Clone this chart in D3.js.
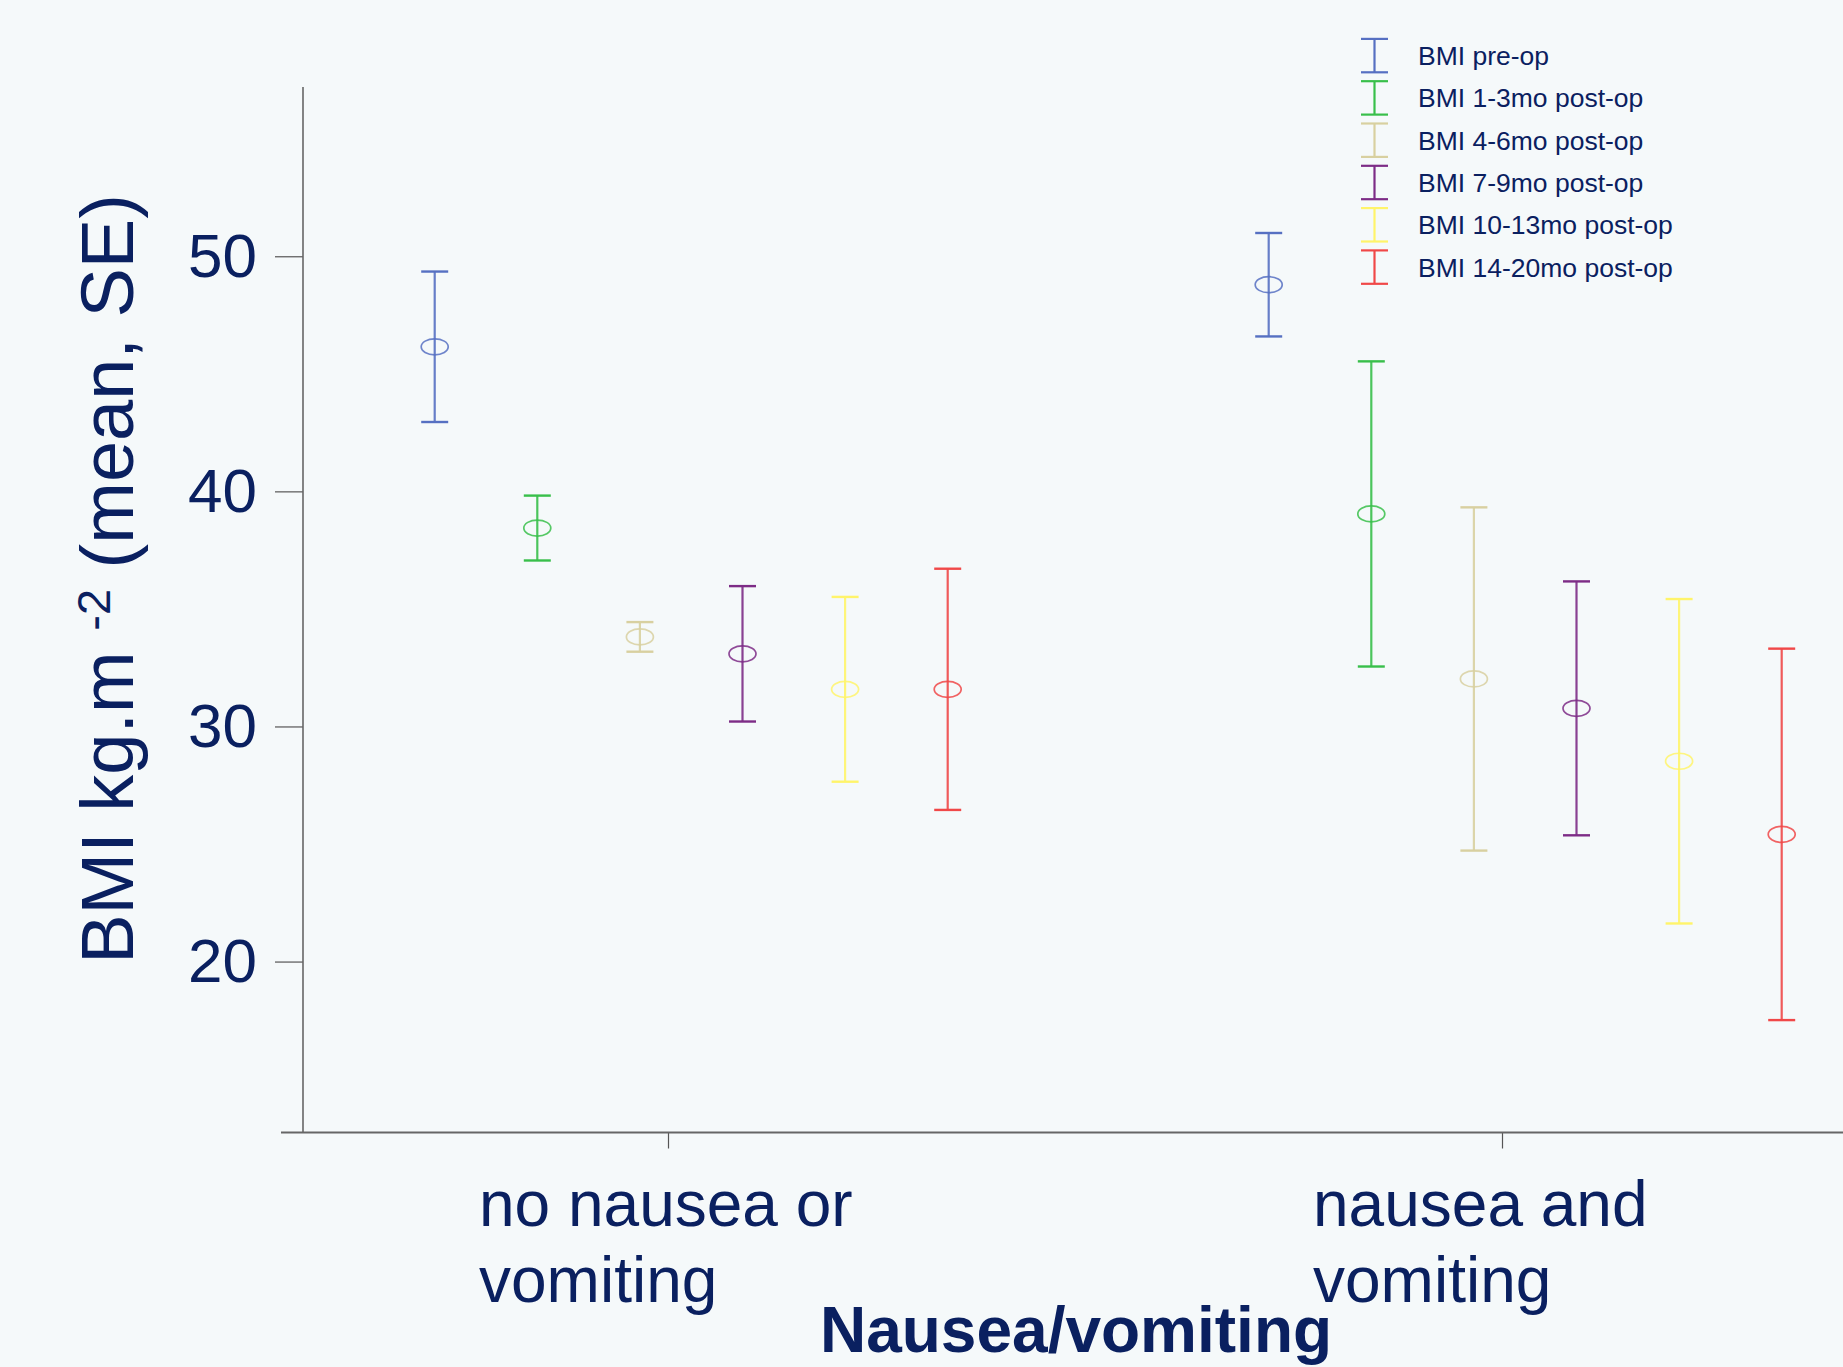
<!DOCTYPE html>
<html>
<head>
<meta charset="utf-8">
<script src="https://cdn.jsdelivr.net/npm/d3@7"></script>
<style>
  html, body { margin: 0; padding: 0; background: #f5f9fa; }
  svg { display: block; }
  text { font-family: "Liberation Sans", Arial, sans-serif; fill: #0a2060; }
</style>
</head>
<body>
<svg id="chart" width="1843" height="1367"></svg>
<script>
// Groups on the x axis
const groups = ["no nausea or vomiting", "nausea and vomiting"];
const groupLines = [["no nausea or", "vomiting"], ["nausea and", "vomiting"]];

// Time points (series)
const series = ["BMI pre-op", "BMI 1-3mo post-op", "BMI 4-6mo post-op",
                "BMI 7-9mo post-op", "BMI 10-13mo post-op", "BMI 14-20mo post-op"];
const seriesColors = ["#5670c2", "#38bf4a", "#d8d0a0", "#7d2c86", "#fff46a", "#f04848"];

// Mean BMI per series, one array per group
const meanNoNausea = [46.15, 38.44, 33.81, 33.09, 31.58, 31.58];
const meanNausea   = [48.79, 39.04, 32.02, 30.77, 28.52, 25.41];
// Standard error per series, one array per group
const seNoNausea = [3.20, 1.38, 0.63, 2.88, 3.93, 5.13];
const seNausea   = [2.20, 6.49, 7.30, 5.40, 6.90, 7.90];

const yTicks = [20, 30, 40, 50];

const svg = d3.select("#chart");

const y = d3.scaleLinear().domain([12.75, 57.2]).range([1132, 87]);
const xGroup = d3.scalePoint().domain(groups).range([668, 1502]);
const xSeries = d3.scalePoint().domain(series).range([-233.3, 279.7]);
const color = d3.scaleOrdinal().domain(series).range(seriesColors);

// y axis
const yAxis = svg.append("g")
  .attr("transform", "translate(303,0)")
  .call(d3.axisLeft(y).tickValues(yTicks).tickSize(28).tickPadding(18).tickSizeOuter(0));
yAxis.select(".domain").remove();
yAxis.selectAll(".tick line").attr("stroke", "#555").attr("stroke-width", 1.2);
yAxis.selectAll(".tick text")
  .style("font-size", "62px").style("font-family", "'Liberation Sans', Arial, sans-serif")
  .attr("fill", "#0a2060");
svg.append("line").attr("x1", 303).attr("x2", 303).attr("y1", 87).attr("y2", 1133)
  .attr("stroke", "#666").attr("stroke-width", 1.6);

// x axis
const xAxis = svg.append("g")
  .attr("transform", "translate(0,1132.5)")
  .call(d3.axisBottom(xGroup).tickSize(16).tickFormat(""));
xAxis.select(".domain").remove();
xAxis.selectAll(".tick line").attr("stroke", "#555").attr("stroke-width", 1.2);
svg.append("line").attr("x1", 281).attr("x2", 1843).attr("y1", 1132.5).attr("y2", 1132.5)
  .attr("stroke", "#666").attr("stroke-width", 1.8);

// category labels
groups.forEach((g, gi) => {
  const t = svg.append("text")
    .attr("x", xGroup(g) - 189)
    .attr("y", 1226)
    .style("font-size", "64px");
  groupLines[gi].forEach((line, li) => {
    t.append("tspan").attr("x", xGroup(g) - 189).attr("dy", li === 0 ? 0 : 76).text(line);
  });
});

// x title
svg.append("text")
  .attr("x", 1076).attr("y", 1352)
  .attr("text-anchor", "middle")
  .style("font-size", "64px").style("font-weight", "bold")
  .text("Nausea/vomiting");

// y title
const yt = svg.append("text")
  .attr("transform", "translate(133,579) rotate(-90)")
  .attr("text-anchor", "middle")
  .style("font-size", "74px");
yt.append("tspan").text("BMI kg.m ");
yt.append("tspan").attr("dy", -23).style("font-size", "47px").text("-2");
yt.append("tspan").attr("dy", 23).text(" (mean, SE)");

// error bars with mean markers
const rows = [];
groups.forEach((g, gi) => {
  const means = gi === 0 ? meanNoNausea : meanNausea;
  const ses = gi === 0 ? seNoNausea : seNausea;
  series.forEach((s, si) => rows.push({ group: g, series: s, mean: means[si], se: ses[si] }));
});

const capHalf = 13.5;
const marks = svg.append("g").selectAll("g").data(rows).join("g")
  .attr("transform", d => `translate(${xGroup(d.group) + xSeries(d.series)},0)`);

marks.append("line")
  .attr("y1", d => y(d.mean + d.se)).attr("y2", d => y(d.mean - d.se))
  .attr("stroke", d => color(d.series)).attr("stroke-width", 2.2).attr("stroke-opacity", 0.9);
marks.append("line")
  .attr("x1", -capHalf).attr("x2", capHalf)
  .attr("y1", d => y(d.mean + d.se)).attr("y2", d => y(d.mean + d.se))
  .attr("stroke", d => color(d.series)).attr("stroke-width", 2.4);
marks.append("line")
  .attr("x1", -capHalf).attr("x2", capHalf)
  .attr("y1", d => y(d.mean - d.se)).attr("y2", d => y(d.mean - d.se))
  .attr("stroke", d => color(d.series)).attr("stroke-width", 2.4);
marks.append("ellipse")
  .attr("cy", d => y(d.mean)).attr("rx", 13.5).attr("ry", 8)
  .attr("fill", "none")
  .attr("stroke", d => color(d.series)).attr("stroke-width", 1.7).attr("stroke-opacity", 0.85);

// legend
const legend = svg.append("g").selectAll("g").data(series).join("g")
  .attr("transform", (d, i) => `translate(1374.5,${55.6 + i * 42.3})`);
legend.append("line").attr("y1", -16.7).attr("y2", 16.7)
  .attr("stroke", d => color(d)).attr("stroke-width", 2.2);
legend.append("line").attr("x1", -13.5).attr("x2", 13.5).attr("y1", -16.7).attr("y2", -16.7)
  .attr("stroke", d => color(d)).attr("stroke-width", 2.2);
legend.append("line").attr("x1", -13.5).attr("x2", 13.5).attr("y1", 16.7).attr("y2", 16.7)
  .attr("stroke", d => color(d)).attr("stroke-width", 2.2);
legend.append("text")
  .attr("x", 43.5).attr("y", 9.5)
  .style("font-size", "26.5px")
  .text(d => d);
</script>
</body>
</html>
